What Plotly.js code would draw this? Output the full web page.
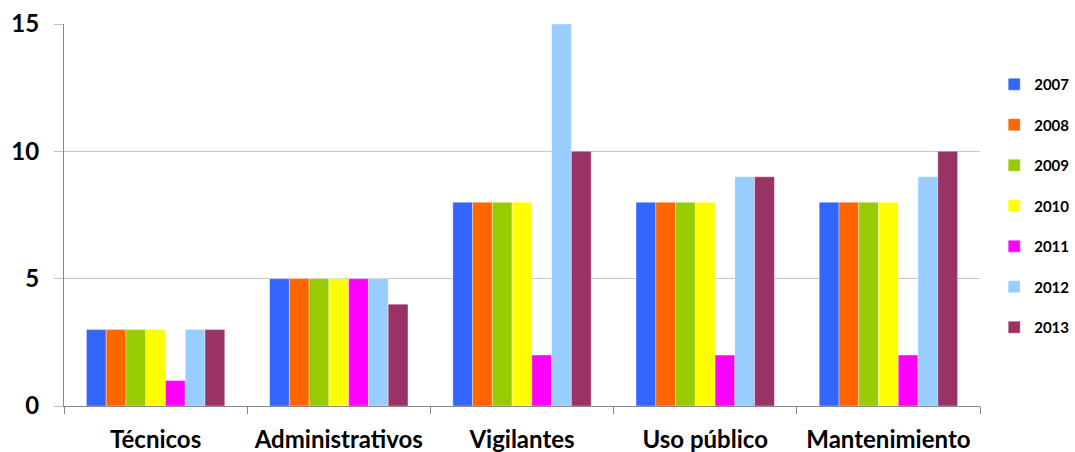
<!DOCTYPE html>
<html><head><meta charset="utf-8">
<script src="https://cdn.plot.ly/plotly-3.0.1.min.js"></script>
<style>body{margin:0;background:#fff}#c{width:1075px;height:452px}</style>
</head><body><div id="c"></div>
<script>
const categories = ["Técnicos","Administrativos","Vigilantes","Uso público","Mantenimiento"];
const years = ["2007","2008","2009","2010","2011","2012","2013"];
const v2007 = [3,5,8,8,8];
const v2008 = [3,5,8,8,8];
const v2009 = [3,5,8,8,8];
const v2010 = [3,5,8,8,8];
const v2011 = [1,5,2,2,2];
const v2012 = [3,5,15,9,9];
const v2013 = [3,4,10,9,10];
const series = [v2007,v2008,v2009,v2010,v2011,v2012,v2013];
const colors = ["#3366FF","#FF6600","#99CC00","#FFFF00","#FF00FF","#99CCFF","#993366"];
const font = "Lato, 'Open Sans', sans-serif";
const data = series.map((vals,i)=>({
  type:"bar", name:years[i], x:categories, y:vals, legendgroup:years[i],
  marker:{color:colors[i], line:{color:"rgba(255,255,255,0.35)", width:1}}
}));
const layout = {
  width:1075, height:452,
  margin:{l:64, r:95, t:24, b:46, autoexpand:false},
  paper_bgcolor:"#fff", plot_bgcolor:"#fff",
  barmode:"group", bargap:0.245, bargroupgap:0,
  showlegend:true,
  legend:{x:1.0155, xanchor:"left", y:0.885, yanchor:"top", traceorder:"grouped", tracegroupgap:18,
    font:{family:font, size:15, color:"#000", weight:"bold"}, itemwidth:30},
  xaxis:{showline:true, linecolor:"#888", linewidth:1, ticks:"outside", tickson:"boundaries",
    ticklen:7, tickcolor:"#888", tickfont:{family:font, size:24, color:"#000", weight:"bold"}, showgrid:false,
    ticklabelstandoff:12},
  yaxis:{range:[0,15], tickvals:[0,5,10,15], showline:true, linecolor:"#888", linewidth:1,
    ticks:"outside", ticklen:9, tickcolor:"#c0c0c0", showgrid:true, gridcolor:"#c8c8c8", zeroline:false,
    tickfont:{family:font, size:24, color:"#000", weight:"bold"}, ticklabelstandoff:10}
};
Plotly.newPlot("c", data, layout, {displayModeBar:false});
</script></body></html>
